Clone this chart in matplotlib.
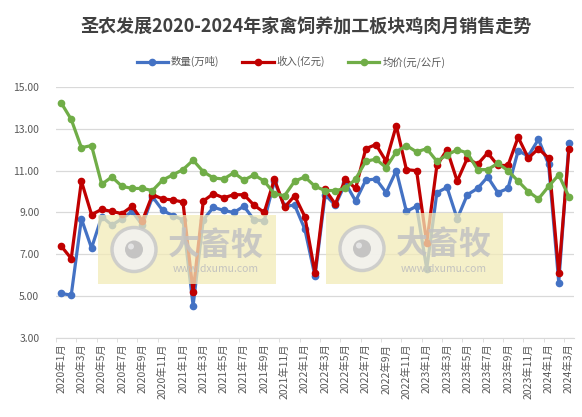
import matplotlib
matplotlib.use("Agg")
import matplotlib.pyplot as plt
from matplotlib.patches import Rectangle, Circle, Ellipse
import numpy as np

plt.rcParams['font.family'] = ['Noto Sans CJK SC', 'DejaVu Sans']

months = []
for y in range(2020, 2025):
    for m in range(1, 13):
        if y == 2024 and m > 3:
            break
        months.append(f"{y}年{m}月")

quantity = [5.13, 5.05, 8.7, 7.3, 8.8, 8.4, 8.7, 9.05, 8.4, 9.75, 9.1, 8.85,
            8.65, 4.55, 8.65, 9.25, 9.1, 9.0, 9.3, 8.65, 8.6, 10.5, 9.3, 9.35,
            8.2, 5.95, 9.85, 9.35, 10.4, 9.55, 10.55, 10.6, 9.95, 11.0, 9.05, 9.3,
            6.3, 9.95, 10.2, 8.7, 9.85, 10.15, 10.7, 9.95, 10.15, 11.95, 11.7, 12.5,
            11.3, 5.65, 12.3]
revenue = [7.4, 6.8, 10.5, 8.9, 9.15, 9.05, 8.95, 9.3, 8.6, 9.85, 9.65, 9.6,
           9.5, 5.2, 9.55, 9.9, 9.7, 9.85, 9.85, 9.35, 9.0, 10.6, 9.25, 9.8,
           8.8, 6.1, 10.1, 9.4, 10.6, 10.15, 12.05, 12.25, 11.45, 13.15, 11.05, 11.0,
           7.55, 11.25, 12.0, 10.5, 11.6, 11.3, 11.85, 11.25, 11.25, 12.6, 11.6, 12.05,
           11.6, 6.1, 12.05]
price = [14.25, 13.45, 12.1, 12.2, 10.35, 10.7, 10.25, 10.15, 10.15, 10.05, 10.55, 10.8,
         11.05, 11.5, 10.95, 10.65, 10.6, 10.9, 10.55, 10.8, 10.5, 9.9, 9.8, 10.5,
         10.7, 10.25, 10.05, 10.05, 10.15, 10.6, 11.45, 11.55, 11.15, 11.9, 12.2, 11.9,
         12.05, 11.45, 11.75, 12.0, 11.85, 11.05, 11.05, 11.35, 11.0, 10.5, 10.0, 9.65,
         10.25, 10.8, 9.75]
series_names = ["数量(万吨)", "收入(亿元)", "均价(元/公斤)"]
colors = ["#4472C4", "#C00000", "#70AD47"]

W, H = 582, 417
fig = plt.figure(figsize=(W / 100, H / 100), dpi=100)
ax = fig.add_axes([56 / W, 1 - 338 / H, (574 - 56) / W, (338 - 87) / H])

x = np.arange(len(months))
for vals, name, c in zip([quantity, revenue, price], series_names, colors):
    ax.plot(x, vals, color=c, lw=2.3, marker='o', markersize=4.5, label=name,
            solid_joinstyle='round', zorder=3)

ax.set_xlim(-0.5, len(months) - 0.5)
ax.set_ylim(3, 15)
ax.set_yticks(np.arange(3, 15.01, 2))
ax.set_yticklabels([f"{v:.2f}" for v in np.arange(3, 15.01, 2)])
ax.yaxis.grid(True, color='#D9D9D9', lw=0.9)
ax.set_axisbelow(True)
for s in ['top', 'right', 'left']:
    ax.spines[s].set_visible(False)
ax.spines['bottom'].set_color('#D9D9D9')
ax.tick_params(axis='y', length=0, labelsize=7.5, labelcolor='#595959', pad=12)

ax.set_xticks(x[::2])
ax.set_xticklabels(months[::2], rotation=90, fontsize=7.5, color='#595959')
ax.tick_params(axis='x', length=0, pad=4)
ax.set_xticks(x[::2] - 0.5, minor=True)
ax.tick_params(axis='x', which='minor', length=3, color='#D9D9D9')

# watermarks
def watermark(x0, y0, x1, y1):
    r = Rectangle((x0 / W, 1 - y1 / H), (x1 - x0) / W, (y1 - y0) / H,
                  transform=fig.transFigure, facecolor='#F2EBB8', alpha=0.75,
                  edgecolor='none', zorder=5)
    fig.add_artist(r)
    cx, cy = x0 + 36, (y0 + y1) / 2
    c1 = Ellipse((cx / W, 1 - cy / H), 44 / W, 44 / H, transform=fig.transFigure,
                 facecolor='#F2F2F2', edgecolor='#C8C8C8', lw=2.5, alpha=0.85, zorder=6)
    fig.add_artist(c1)
    c2 = Ellipse((cx / W, 1 - cy / H), 18 / W, 18 / H,
                 transform=fig.transFigure, facecolor='#BDBDBD',
                 edgecolor='none', alpha=0.85, zorder=7)
    fig.add_artist(c2)
    c3 = Ellipse(((cx - 3) / W, 1 - (cy - 3) / H), 6 / W, 6 / H,
                 transform=fig.transFigure, facecolor='#E8E8E8',
                 edgecolor='none', alpha=0.9, zorder=8)
    fig.add_artist(c3)
    tx = x0 + 118
    fig.text(tx / W, 1 - (cy - 4) / H, "大畜牧", ha='center', va='center', fontsize=23,
             fontweight='bold', color='#C2C2C2', alpha=0.85, zorder=7)
    fig.text(tx / W, 1 - (cy + 20) / H, "www.dxumu.com", ha='center', va='center',
             fontsize=7.5, color='#BEBEBE', alpha=0.9, zorder=7)

watermark(98, 215, 276, 284)
watermark(326, 213, 503, 284)

fig.text(306 / W, 1 - 27 / H, "圣农发展2020-2024年家禽饲养加工板块鸡肉月销售走势",
         ha='center', va='center', fontsize=13, fontweight='bold', color='#404040')
fig.legend(loc='center', bbox_to_anchor=(0.5, 1 - 62 / H), ncol=3, frameon=False,
           fontsize=7.5, handlelength=3, columnspacing=2.2, handletextpad=0.3,
           labelcolor='#595959')

fig.savefig("out.png", dpi=100, facecolor='white')
